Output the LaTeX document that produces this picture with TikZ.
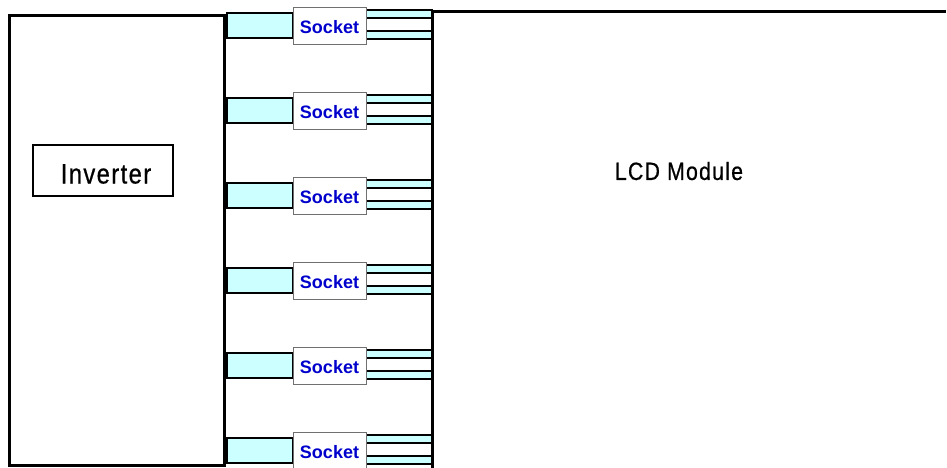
\documentclass[tikz,border=0pt]{standalone}
\usepackage{fontspec}
\setmainfont{Liberation Sans}
\newfontfamily\namefont[FakeStretch=0.85, LetterSpace=5, FakeBold=0.6]{Liberation Sans}
\usepackage{xcolor}
\usetikzlibrary{positioning}
\definecolor{skCyan}{HTML}{CCFFFF}
\definecolor{skBlue}{HTML}{0000CC}
\definecolor{skEdge}{HTML}{707070}
\tikzset{
  frame/.style={draw, line width=3pt, inner sep=0pt},
  plug/.style={draw, fill=skCyan, line width=1.6pt, inner sep=0pt,
    minimum width=66pt, minimum height=25pt},
  socket/.style={draw=skEdge, fill=white, line width=1pt, inner sep=0pt,
    minimum width=73pt, minimum height=37pt, text height=16pt, text depth=0pt,
    font=\fontsize{18}{20}\selectfont\bfseries, text=skBlue},
  pinc/.style={draw, fill=skCyan, line width=1.3pt, inner sep=0pt,
    minimum width=66pt, minimum height=8pt},
  pinw/.style={draw, fill=white, line width=1.3pt, inner sep=0pt,
    minimum width=66pt, minimum height=13pt},
  title/.style={draw, line width=1.2pt, inner sep=0pt, minimum width=140pt,
    minimum height=51pt, text height=26pt, text depth=0pt,
    font=\namefont\fontsize{28}{30}\selectfont}
}
\begin{document}
\begin{tikzpicture}[x=1pt, y=-1pt]
  \clip (0,0) rectangle (947,467);
  % inverter side
  \node[frame, minimum width=215pt, minimum height=450pt] (invframe) at (116.5,240) {};
  \node[title] (inv) at (103,170.5) {\hspace*{6pt}Inverter};
  % lcd side
  \coordinate (lcdbot) at (432,470);
  \coordinate (lcdend) at (946,11);
  \draw[line width=3pt] (lcdbot) |- (lcdend);
  \node[font=\namefont\fontsize{25}{27}\selectfont] (lcd) at (679,171) {LCD Module};
  % row 1
  \node[plug] (plug1) at (260,25.5) {};
  \node[pinc] (pinA1) at (399,14) {};
  \node[pinw] (pinB1) at (399,24.5) {};
  \node[pinc] (pinC1) at (399,35) {};
  \node[socket] (sock1) at (329.5,25.5) {Socket};
  % row 2
  \node[plug] (plug2) at (260,110.5) {};
  \node[pinc] (pinA2) at (399,99) {};
  \node[pinw] (pinB2) at (399,109.5) {};
  \node[pinc] (pinC2) at (399,120) {};
  \node[socket] (sock2) at (329.5,110.5) {Socket};
  % row 3
  \node[plug] (plug3) at (260,195.5) {};
  \node[pinc] (pinA3) at (399,184) {};
  \node[pinw] (pinB3) at (399,194.5) {};
  \node[pinc] (pinC3) at (399,205) {};
  \node[socket] (sock3) at (329.5,195.5) {Socket};
  % row 4
  \node[plug] (plug4) at (260,280.5) {};
  \node[pinc] (pinA4) at (399,269) {};
  \node[pinw] (pinB4) at (399,279.5) {};
  \node[pinc] (pinC4) at (399,290) {};
  \node[socket] (sock4) at (329.5,280.5) {Socket};
  % row 5
  \node[plug] (plug5) at (260,365.5) {};
  \node[pinc] (pinA5) at (399,354) {};
  \node[pinw] (pinB5) at (399,364.5) {};
  \node[pinc] (pinC5) at (399,375) {};
  \node[socket] (sock5) at (329.5,365.5) {Socket};
  % row 6
  \node[plug] (plug6) at (260,450.5) {};
  \node[pinc] (pinA6) at (399,439) {};
  \node[pinw] (pinB6) at (399,449.5) {};
  \node[pinc] (pinC6) at (399,460) {};
  \node[socket] (sock6) at (329.5,450.5) {Socket};
\end{tikzpicture}
\end{document}
